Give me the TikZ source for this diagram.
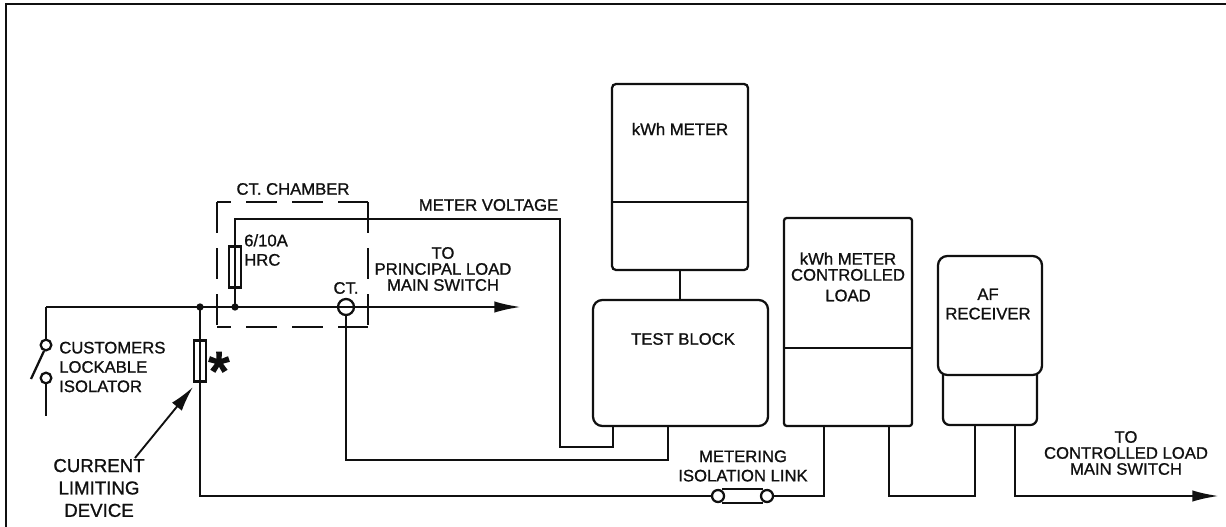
\documentclass[tikz,border=0pt]{standalone}
\usepackage{fontspec}
\setmainfont{Liberation Sans}
\newfontfamily\heavy[RawFeature={embolden=1}]{Liberation Sans}
\newfontfamily\starfont[RawFeature={embolden=4}]{Liberation Sans}
\usetikzlibrary{arrows.meta}
\definecolor{ink}{HTML}{101010}
\tikzset{
  wire/.style={line width=1.7pt,draw=ink},
  box/.style={draw=ink,line width=1.7pt,anchor=north west,inner sep=0pt,outer sep=0pt,minimum width=#1},
  lbl/.style={text=ink,font=\heavy\fontsize{12.5pt}{12pt}\selectfont,align=center,inner sep=0pt},
  lblwide/.style={text=ink,font=\heavy\fontsize{12.5pt}{14.5pt}\selectfont,align=center,inner sep=0pt},
  lblbig/.style={text=ink,font=\heavy\fontsize{14pt}{16.8pt}\selectfont,align=center,inner sep=0pt},
  fuse/.style={draw=ink,line width=1.7pt,fill=white,inner sep=0pt,outer sep=0pt,minimum width=9pt},
  ring/.style={circle,draw=ink,line width=1.7pt,fill=white,inner sep=0pt,outer sep=0pt,minimum size=#1},
  dot/.style={circle,fill=ink,inner sep=0pt,outer sep=0pt,minimum size=5.5pt},
  dashline/.style={draw=ink,line width=1.7pt,dash pattern=on 23.2pt off 11.3pt},
  arr/.style={-{Latex[length=20pt,width=8.5pt]}}
}
\begin{document}
\begin{tikzpicture}[x=0.75pt,y=-0.75pt]
\useasboundingbox (0,0) rectangle (1226,527);
\fill[white] (0,0) rectangle (1226,527);
\draw[ink,line width=2pt] (6,528) -- (6,4) -- (1227,4);
% coordinates
\coordinate (isoTop) at (46,307);
\coordinate (mainEnd) at (521,307);
\coordinate (j1) at (200,307);
\coordinate (j2) at (235,307);
\coordinate (volt1) at (235,219);
\coordinate (volt2) at (560,219);
\coordinate (volt3) at (560,447);
\coordinate (ct1) at (346,460);
\coordinate (feed1) at (200,496);
\coordinate (ctrlEnd) at (1219,496);
\coordinate (isoEnd) at (46,416);
% boxes
\node[box=136*0.75pt,minimum height=186*0.75pt,rounded corners=3pt] (mt) at (612,84) {};
\draw[wire] (mt.west |- 0,202) -- (mt.east |- 0,202);
\node[box=175*0.75pt,minimum height=126*0.75pt,rounded corners=7pt] (tb) at (593,300) {};
\node[box=128*0.75pt,minimum height=208*0.75pt,rounded corners=2pt] (cl) at (784,218) {};
\draw[wire] (cl.west |- 0,348) -- (cl.east |- 0,348);
\node[box=94*0.75pt,minimum height=60*0.75pt,rounded corners=5pt] (rxl) at (943,365) {};
\node[box=104*0.75pt,minimum height=119*0.75pt,rounded corners=7pt,fill=white] (rx) at (938,256) {};
% wires
\draw[wire] (mt.south) -- (tb.north -| mt.south);
\draw[wire,arr] (isoTop) -- (mainEnd);
\draw[wire] (isoTop) -- (46,345);
\draw[wire] (46,378) -- (isoEnd);
\draw[wire] (44,351) -- (31,379);
\node[ring=8pt] (sw1) at (46,345) {};
\node[ring=8pt] (sw2) at (46,378) {};
\draw[wire] (j2) -- (volt1) -- (volt2) -- (volt3) -- (613,447) -- (tb.south -| 613,0);
\draw[wire] (j1) -- (feed1) -- (718,496);
\draw[wire] (767,496) -- (824,496) -- (cl.south -| 824,0);
\draw[wire] (cl.south -| 889,0) -- (889,496) -- (975,496) -- (rxl.south -| 975,0);
\draw[wire,arr] (rxl.south -| 1015,0) -- (1015,496) -- (ctrlEnd);
\draw[wire] (722,489) -- (763,489) (722,503) -- (763,503);
\node[ring=9pt] (lk1) at (718,496) {};
\node[ring=9pt] (lk2) at (767,496) {};
\node[ring=12pt] (ct) at (346,307) {};
\draw[wire] (ct.west) -- (ct.east);
\draw[wire] (ct.south) -- (ct1) -- (668,460) -- (tb.south -| 668,0);
\node[fuse,minimum height=41*0.75pt] (f2) at (235,267) {};
\node[fuse,minimum height=41*0.75pt] (f1) at (200,361) {};
\draw[wire] (f1.north) -- (f1.south);
\draw[wire] (f2.north) -- (f2.south);
\node[dot] (d1) at (j1) {};
\node[dot] (d2) at (j2) {};
% chamber
\draw[dashline,dash phase=12.7pt] (217,202) -- (368,202);
\draw[dashline,dash phase=12.7pt] (217,327) -- (368,327);
\draw[dashline] (217,202) -- (217,327);
\draw[dashline] (368,202) -- (368,327);
% pointer
\coordinate (ptrEnd) at (193,387);
\coordinate (ptrStart) at (135,458);
\draw[wire,line width=1.4pt,-{Latex[length=19pt,width=9.5pt]}] (ptrStart) -- (ptrEnd);
% labels
\node[lbl] (l1) at (293,189) {CT. CHAMBER};
\node[lbl] (l2) at (488.5,205) {METER VOLTAGE};
\node[lblwide,align=left,anchor=west] (l3) at (244,250) {6/10A\\HRC};
\node[lbl] (l5) at (346,288) {CT.};
\node[lbl] (l6) at (443,269) {TO\\PRINCIPAL LOAD\\MAIN SWITCH};
\node[lblwide,align=left,anchor=west] (l7) at (59,367) {CUSTOMERS\\LOCKABLE\\ISOLATOR};
\node[lblbig] (l8) at (99,488) {CURRENT\\LIMITING\\DEVICE};
\node[text=ink,font=\starfont\fontsize{40pt}{40pt}\selectfont,inner sep=0pt] (st) at (219,371) {*};
\node[lbl] (l9) at (680,129) {kWh METER};
\node[lbl] (l10) at (683,339) {TEST BLOCK};
\node[lbl] (l11) at (848,277) {kWh METER\\CONTROLLED\\[3.5pt]LOAD};
\node[lblwide] (l12) at (988,304) {AF\\RECEIVER};
\node[lblwide] (l13) at (743,466) {METERING\\ISOLATION LINK};
\node[lbl] (l14) at (1126,453) {TO\\CONTROLLED LOAD\\MAIN SWITCH};
\end{tikzpicture}
\end{document}
